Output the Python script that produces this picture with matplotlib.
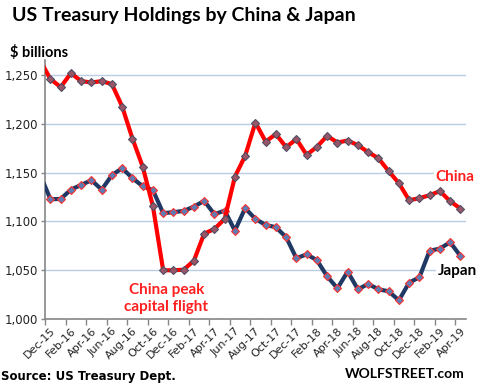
"""US Treasury holdings by China & Japan, Dec-15 to Apr-19."""
import numpy as np
import matplotlib
matplotlib.use("Agg")
import matplotlib.pyplot as plt

# Nov-15 sits just left of the plot edge; only its segment into Dec-15 shows
months = ["Nov-15",
          "Dec-15", "Jan-16", "Feb-16", "Mar-16", "Apr-16", "May-16", "Jun-16",
          "Jul-16", "Aug-16", "Sep-16", "Oct-16", "Nov-16", "Dec-16",
          "Jan-17", "Feb-17", "Mar-17", "Apr-17", "May-17", "Jun-17",
          "Jul-17", "Aug-17", "Sep-17", "Oct-17", "Nov-17", "Dec-17",
          "Jan-18", "Feb-18", "Mar-18", "Apr-18", "May-18", "Jun-18",
          "Jul-18", "Aug-18", "Sep-18", "Oct-18", "Nov-18", "Dec-18",
          "Jan-19", "Feb-19", "Mar-19", "Apr-19"]
china = [1265.2,
         1245.9, 1237.7, 1252.0, 1243.8, 1242.4, 1243.8, 1240.7,
         1217.7, 1184.9, 1156.1, 1115.4, 1049.7, 1049.7,
         1050.3, 1059.6, 1087.3, 1092.1, 1102.4, 1145.8,
         1167.1, 1201.3, 1181.8, 1189.4, 1176.0, 1184.3,
         1168.1, 1176.4, 1187.6, 1180.8, 1182.8, 1178.1,
         1170.9, 1164.7, 1151.4, 1139.1, 1121.6, 1123.7,
         1126.7, 1130.9, 1120.6, 1113.0]
japan = [1147.7,
         1122.6, 1122.9, 1132.5, 1137.3, 1142.1, 1132.5, 1147.3,
         1154.5, 1144.2, 1136.0, 1131.9, 1108.3, 1109.3,
         1110.6, 1115.0, 1120.9, 1107.2, 1110.9, 1090.4,
         1113.4, 1102.4, 1096.2, 1093.9, 1083.6, 1062.0,
         1066.1, 1060.0, 1043.5, 1031.2, 1048.3, 1030.2,
         1035.6, 1030.2, 1028.1, 1018.9, 1037.0, 1042.5,
         1069.8, 1071.9, 1078.5, 1064.4]
y_ticks = [1000, 1050, 1100, 1150, 1200, 1250]

x = np.arange(len(months)) - 1   # Dec-15 at 0
grid_col = "#B9CDE5"
axis_col = "#868686"

fig = plt.figure(figsize=(4.81, 3.89), dpi=100)
ax = fig.add_axes([0.0942, 0.1807, 0.8736, 0.6651])

ax.plot(x, japan, color="#1F3864", lw=3.0, marker="D", ms=4.2,
        mfc="#5B7DB5", mec="#FF3030", mew=0.8, zorder=3)
ax.plot(x, china, color="#FF0000", lw=3.0, marker="D", ms=4.2,
        mfc="#9A5666", mec="#505064", mew=0.8, zorder=4)

ax.set_xlim(-0.5, len(months) - 1.5)
ax.set_ylim(1000, 1265.5)
ax.set_yticks(y_ticks)
ax.set_yticklabels([f"{v:,}" for v in y_ticks], fontsize=8.5, color="#222222")
for v in y_ticks[1:]:
    ax.axhline(v, color=grid_col, lw=1.0, zorder=1)

# labels every second month, tick marks on category boundaries
lab_idx = np.arange(0, len(months) - 1, 2)
ax.set_xticks(lab_idx)
ax.set_xticklabels([months[i + 1] for i in lab_idx], rotation=45, ha="right",
                   rotation_mode="anchor", fontsize=8, color="#222222")
ax.tick_params(axis="x", length=0, pad=5)
ax.set_xticks(np.arange(-0.5, len(months) - 1, 2), minor=True)
ax.tick_params(axis="x", which="minor", length=4, color=axis_col, width=1)
ax.tick_params(axis="y", length=3, color=axis_col, width=1, pad=2)

for s in ["top", "right"]:
    ax.spines[s].set_visible(False)
for s in ["left", "bottom"]:
    ax.spines[s].set_color(axis_col)
    ax.spines[s].set_linewidth(1.2)

fig.text(0.025, 0.961, "US Treasury Holdings by China & Japan", fontsize=14,
         fontweight="bold", ha="left", va="center", family="Lato")
fig.text(0.021, 0.866, "$ billions", fontsize=10.5, fontweight="bold",
         ha="left", va="center", family="Lato")

ax.text(len(months) - 1.5 - 2.9, 1145.5, "China", color="#FF2020", fontsize=11,
        fontweight="bold", ha="left", va="center", family="Lato",
        bbox=dict(fc="white", ec="none", pad=1), zorder=5, clip_on=False)
ax.text(len(months) - 1.5 - 2.7, 1049, "Japan", color="black", fontsize=11,
        fontweight="bold", ha="left", va="center", family="Lato",
        bbox=dict(fc="white", ec="none", pad=1), zorder=5, clip_on=False)
ax.text(11.3, 1021, "China peak\ncapital flight", color="#FF2020", fontsize=11,
        fontweight="bold", ha="center", va="center", family="Lato",
        linespacing=1.3, zorder=5)

fig.text(0.002, 0.032, "Source: US Treasury Dept.", fontsize=8.5,
         fontweight="bold", ha="left", va="center")
fig.text(0.965, 0.038, "WOLFSTREET.com", fontsize=10, fontweight="bold",
         ha="right", va="center", family="Lato")

fig.savefig("out.png", dpi=100)
